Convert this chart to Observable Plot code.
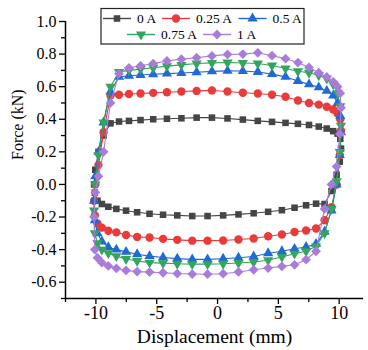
<!DOCTYPE html>
<html><head><meta charset="utf-8">
<script src="https://cdn.jsdelivr.net/npm/d3@7"></script>
<script src="https://cdn.jsdelivr.net/npm/@observablehq/plot@0.6"></script>
<style>body{margin:0;background:#fff;} #chart{position:relative;width:368px;height:350px;}</style>
</head><body><div id="chart"></div>
<script>
// Displacement samples (mm), shared by all five loops
const displacement = [
  -10.15,-10.05,-9.79,-9.37,-8.80,-8.10,-7.28,-6.33,-5.29,-4.16,
  -2.97,-1.72,-0.46,0.82,2.08,3.31,4.48,5.59,6.61,7.52,
  8.32,8.98,9.51,9.87,10.09,10.15,10.05,9.79,9.37,8.80,
  8.10,7.28,6.33,5.29,4.16,2.97,1.72,0.46,-0.82,-2.08,
  -3.31,-4.48,-5.59,-6.61,-7.52,-8.32,-8.98,-9.51,-9.87,-10.09
];
// Force (kN) per current
const force0A = [
  0.00,0.09,0.20,0.30,0.375,0.386,0.39,0.395,0.40,0.403,
  0.406,0.41,0.41,0.405,0.398,0.39,0.384,0.378,0.372,0.365,
  0.355,0.343,0.327,0.312,0.28,0.22,0.14,0.06,-0.04,-0.12,
  -0.118,-0.128,-0.143,-0.158,-0.168,-0.177,-0.184,-0.19,-0.194,-0.194,
  -0.19,-0.186,-0.18,-0.171,-0.161,-0.15,-0.137,-0.12,-0.10,-0.05
];
const force025A = [
  -0.10,0.00,0.12,0.32,0.545,0.55,0.555,0.558,0.562,0.566,
  0.57,0.574,0.577,0.57,0.563,0.558,0.55,0.538,0.515,0.50,
  0.49,0.477,0.46,0.435,0.40,0.33,0.18,0.0,-0.14,-0.22,
  -0.27,-0.283,-0.292,-0.307,-0.318,-0.332,-0.338,-0.344,-0.345,-0.345,
  -0.34,-0.334,-0.326,-0.322,-0.31,-0.294,-0.284,-0.265,-0.24,-0.19
];
const force05A = [
  -0.10,0.05,0.20,0.38,0.57,0.66,0.667,0.672,0.676,0.68,
  0.684,0.689,0.694,0.697,0.696,0.69,0.677,0.66,0.635,0.614,
  0.596,0.574,0.545,0.50,0.42,0.32,0.18,0.0,-0.16,-0.29,
  -0.365,-0.384,-0.395,-0.41,-0.422,-0.442,-0.45,-0.456,-0.46,-0.46,
  -0.455,-0.448,-0.44,-0.428,-0.414,-0.40,-0.385,-0.35,-0.30,-0.22
];
const force075A = [
  -0.16,0.0,0.18,0.38,0.60,0.69,0.70,0.708,0.716,0.726,
  0.734,0.742,0.746,0.748,0.745,0.742,0.73,0.712,0.695,0.685,
  0.67,0.65,0.615,0.56,0.48,0.36,0.20,0.02,-0.15,-0.30,
  -0.38,-0.41,-0.425,-0.445,-0.465,-0.476,-0.482,-0.487,-0.489,-0.489,
  -0.487,-0.483,-0.48,-0.47,-0.458,-0.44,-0.422,-0.40,-0.36,-0.30
];
const force1A = [
  -0.20,-0.05,0.05,0.20,0.50,0.68,0.715,0.728,0.742,0.758,
  0.769,0.778,0.789,0.798,0.80,0.808,0.79,0.772,0.748,0.718,
  0.686,0.66,0.63,0.60,0.56,0.47,0.31,0.11,0.0,-0.15,
  -0.41,-0.462,-0.493,-0.503,-0.513,-0.524,-0.537,-0.548,-0.551,-0.55,
  -0.547,-0.542,-0.538,-0.535,-0.528,-0.515,-0.50,-0.48,-0.45,-0.40
];
const seriesNames = ["0 A","0.25 A","0.5 A","0.75 A","1 A"];
const seriesColors = ["#454545","#ea3a3a","#1f6ad6","#33a55c","#a97bdb"];
const xTicks = [-10,-5,0,5,10];
const xMinorTicks = [-12.5,-7.5,-2.5,2.5,7.5];
const yTicks = [-0.6,-0.4,-0.2,0,0.2,0.4,0.6,0.8,1.0];
const yMinorTicks = [-0.7,-0.5,-0.3,-0.1,0.1,0.3,0.5,0.7,0.9];
const xDomain = [-12.5, 12];
const yDomain = [-0.7, 1.0];

const sqrt3 = Math.sqrt(3);
const triangleDown = {draw(ctx, size){
  const y = -Math.sqrt(size/(sqrt3*3));
  ctx.moveTo(0, -y*2); ctx.lineTo(-sqrt3*y, y); ctx.lineTo(sqrt3*y, y); ctx.closePath();
}};
const symbols = ["square","circle","triangle",triangleDown,"diamond2"];
const radii = [3.7,4.2,3.8,3.8,4.4];
const forces = [force0A, force025A, force05A, force075A, force1A];

const FONT = "'Liberation Serif', 'Times New Roman', serif";
const marks = [];
forces.forEach((f,i)=>{
  const pts = displacement.map((x,k)=>({x, y:f[k]}));
  marks.push(Plot.line([...pts, pts[0]], {x:"x", y:"y", stroke: seriesColors[i], strokeWidth: 1.1}));
  marks.push(Plot.dot(pts, {x:"x", y:"y", symbol: symbols[i], r: radii[i], fill: seriesColors[i], stroke: "none"}));
});

const chart = Plot.plot({
  width: 368, height: 350,
  marginLeft: 65, marginRight: 5, marginTop: 21, marginBottom: 52,
  style: {fontFamily: FONT, background: "#fff", color: "#000"},
  x: {domain: xDomain},
  y: {domain: yDomain},
  marks: [
    ...marks,
    Plot.ruleX([xDomain[0]], {stroke: "#000", strokeWidth: 1.5}),
    Plot.ruleY([yDomain[0]], {stroke: "#000", strokeWidth: 1.5}),
    Plot.axisX({ticks: xTicks, tickSize: 6, tickPadding: 2, tickFormat: d => String(d), fontSize: 18, label: null, strokeWidth: 1.3}),
    Plot.axisX({ticks: xMinorTicks, tickSize: 4, tickFormat: () => "", label: null, strokeWidth: 1.3}),
    Plot.axisY({ticks: yTicks, tickSize: 6, tickPadding: 3, tickFormat: d => d.toFixed(1), fontSize: 16, label: null, strokeWidth: 1.3}),
    Plot.axisY({ticks: yMinorTicks, tickSize: 4, tickFormat: () => "", label: null, strokeWidth: 1.3}),
    Plot.text(["Displacement (mm)"], {frameAnchor: "bottom", dy: 38, lineAnchor: "middle", fontSize: 19.5, fill: "#000"}),
    Plot.text(["Force (kN)"], {frameAnchor: "left", dx: -48, rotate: -90, fontSize: 16, fill: "#000"})
  ]
});
document.getElementById("chart").appendChild(chart);

// Legend box drawn inside the plot area
const svg = d3.select(chart);
const lg = svg.append("g").attr("font-family", FONT).attr("font-size", 13.5).attr("text-anchor", "start");
lg.append("rect").attr("x", 101).attr("y", 8.5).attr("width", 203).attr("height", 35.5)
  .attr("fill", "#fff").attr("stroke", "#222").attr("stroke-width", 1.2);
const legendPos = [[103,18.5],[162,18.5],[238.5,18.5],[127,34.5],[203,34.5]];
seriesNames.forEach((name,i)=>{
  const [x,y] = legendPos[i];
  lg.append("line").attr("x1", x).attr("x2", x+28).attr("y1", y).attr("y2", y)
    .attr("stroke", seriesColors[i]).attr("stroke-width", 1.4);
  const sym = typeof symbols[i] === "string"
    ? {square: d3.symbolSquare, circle: d3.symbolCircle, triangle: d3.symbolTriangle, diamond2: d3.symbolDiamond2}[symbols[i]]
    : symbols[i];
  const size = Math.PI*radii[i]*radii[i];
  lg.append("path").attr("transform", `translate(${x+14},${y})`)
    .attr("d", d3.symbol(sym, size)()).attr("fill", seriesColors[i]);
  lg.append("text").attr("x", x+34).attr("y", y).attr("dy", "0.35em").attr("text-anchor", "start").attr("fill", "#000").text(name);
});
</script>
</body></html>
